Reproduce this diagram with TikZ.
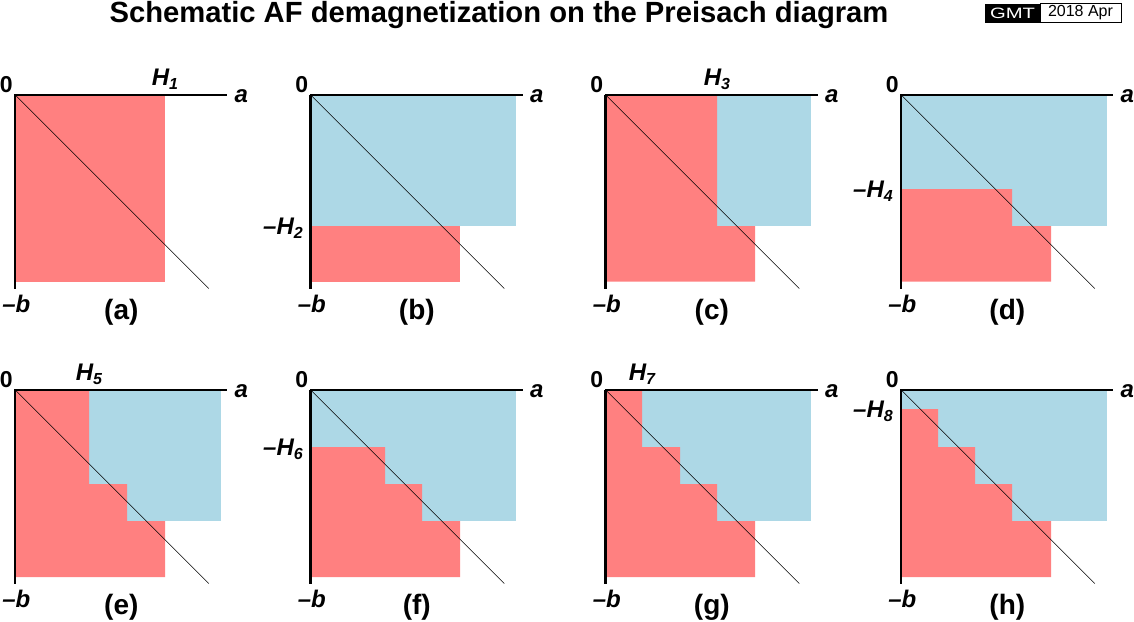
\documentclass[tikz,border=0pt]{standalone}
\usepackage{fontspec}
\setmainfont{Liberation Sans}
\definecolor{redfill}{RGB}{255,128,128}
\definecolor{bluefill}{RGB}{173,216,230}
\tikzset{x=1pt,y=-1pt,
 axisline/.style={line width=2pt,line cap=butt},
 diagline/.style={line width=0.6pt},
 redzone/.style={fill=redfill,draw=none},
 bluezone/.style={fill=bluefill,draw=none},
 lab/.style={font=\fontsize{24}{26}\selectfont\bfseries\itshape,inner sep=0pt,anchor=base},
 panellab/.style={font=\fontsize{28}{30}\selectfont\bfseries,inner sep=0pt,anchor=base}}
\newcommand{\subn}[1]{\raisebox{-4pt}{\fontsize{16}{16}\selectfont\bfseries\itshape #1}}
\newcommand{\axes}[6]{% x0 y0 name panel-label
 \coordinate (#3o) at (#1,#2);
 \coordinate (#3a) at (#1+212,#2);
 \coordinate (#3b) at (#1,#2+194);
 \coordinate (#3d) at (#1+193.5,#2+193.5);
 \draw[diagline] (#3o) -- (#3d);
 \draw[axisline,line width=#6] (#3o) -- (#3b);
 \draw[axisline] ([xshift=-1pt]#3o) -- (#3a);
 \node[lab,font=\fontsize{23}{24}\selectfont\bfseries] (#3zero) at (#1-9,#2-3) {0};
 \node[lab] (#3alab) at (#1+226,#2+7) {a};
 \node[lab] (#3blab) at (#1+1,#2+217) {\mbox{–}b};
 \node[panellab] (#3panel) at (#1+#5,#2+224) {#4};
}
\begin{document}
\begin{tikzpicture}
\useasboundingbox (0,0) rectangle (1134,621);
\node[inner sep=0pt,anchor=base,font=\fontsize{29.2}{30}\selectfont\bfseries] (title) at (499,23) {Schematic AF demagnetization on the Preisach diagram};
\node[fill=black,minimum width=55pt,minimum height=19pt,inner sep=0pt] (logo) at (1012.5,13) {};
\node[text=white,inner sep=0pt,xscale=1.35,font=\fontsize{15}{16}\selectfont] (logotext) at (1012.5,13) {GMT};
\node[draw=black,line width=0.7pt,fill=white,minimum width=81pt,minimum height=18.5pt,inner sep=0pt,font=\fontsize{16}{16}\selectfont] (stamp) at (1080.5,13) {2018 Apr};
% a
\fill[redzone] (15,95) rectangle (165,281.5);
\axes{15.3}{95}{A}{(a)}{106}{2pt}
\node[lab] (h1) at (165,85) {H\subn{1}};
% b
\fill[bluezone] (310.5,95) rectangle (516,226);
\fill[redzone] (310.5,226) rectangle (460,281.5);
\axes{310.8}{95}{B}{(b)}{106}{3pt}
\node[lab,anchor=base east] (h2) at (303,234) {\mbox{–}H\subn{2}};
% c
\fill[bluezone] (605.5,95) rectangle (811,226);
\fill[redzone] (605.5,95) -- (717,95) -- (717,226) -- (755,226) -- (755,281.5) -- (605.5,281.5) -- cycle;
\axes{605.8}{95}{C}{(c)}{106}{3pt}
\node[lab] (h3) at (717,85) {H\subn{3}};
% d
\fill[bluezone] (901,95) rectangle (1106.5,226);
\fill[redzone] (901,189) -- (1012,189) -- (1012,226) -- (1051,226) -- (1051,281.5) -- (901,281.5) -- cycle;
\axes{901.3}{95}{D}{(d)}{106}{2pt}
\node[lab,anchor=base east] (h4) at (893,197) {\mbox{–}H\subn{4}};
% e
\fill[bluezone] (89,390) rectangle (221,521);
\fill[redzone] (15,390) -- (89,390) -- (89,484) -- (127,484) -- (127,521) -- (165,521) -- (165,577) -- (15,577) -- cycle;
\axes{15.3}{390}{E}{(e)}{106}{2pt}
\node[lab] (h5) at (89,380) {H\subn{5}};
% f
\fill[bluezone] (310.5,390) rectangle (516,521);
\fill[redzone] (310.5,447) -- (385,447) -- (385,484) -- (422,484) -- (422,521) -- (460,521) -- (460,577) -- (310.5,577) -- cycle;
\axes{310.8}{390}{F}{(f)}{106}{3pt}
\node[lab,anchor=base east] (h6) at (303,455) {\mbox{–}H\subn{6}};
% g
\fill[bluezone] (605.5,390) rectangle (811,521);
\fill[redzone] (605.5,390) -- (642,390) -- (642,447) -- (680,447) -- (680,484) -- (717,484) -- (717,521) -- (755,521) -- (755,577) -- (605.5,577) -- cycle;
\axes{605.8}{390}{G}{(g)}{106}{3pt}
\node[lab] (h7) at (642,380) {H\subn{7}};
% h
\fill[bluezone] (901,390) rectangle (1106.5,521);
\fill[redzone] (901,409) -- (938,409) -- (938,447) -- (975,447) -- (975,484) -- (1012,484) -- (1012,521) -- (1051,521) -- (1051,577) -- (901,577) -- cycle;
\axes{901.3}{390}{H}{(h)}{106}{2pt}
\node[lab,anchor=base east] (h8) at (893,417) {\mbox{–}H\subn{8}};
\end{tikzpicture}
\end{document}
